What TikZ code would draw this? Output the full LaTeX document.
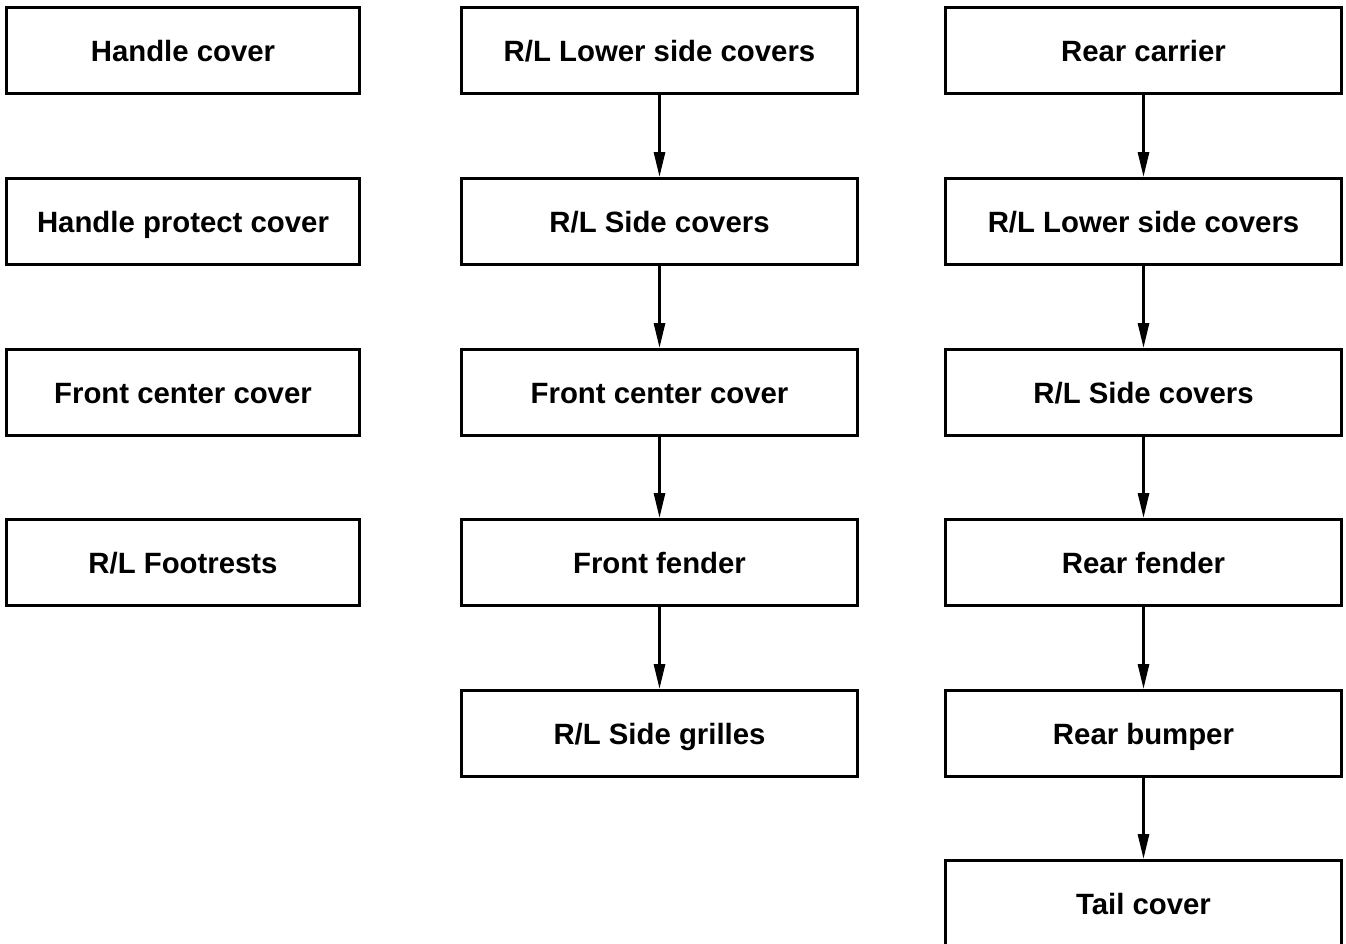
\documentclass[tikz,border=0pt]{standalone}
\usepackage{fontspec}
\setmainfont{Liberation Sans}
\usetikzlibrary{arrows.meta}
\tikzset{
  partbox/.style={draw=black, line width=1.7pt, fill=white, minimum height=1.72cm,
    align=center, inner sep=2pt, text height=11.96pt, text depth=0pt,
    font=\fontsize{16.7pt}{19pt}\selectfont\bfseries},
  narrowbox/.style={partbox, minimum width=7.06cm},
  widebox/.style={partbox, minimum width=7.92cm},
  order/.style={-{Triangle[length=5mm, width=2.2mm]}, line width=1.6pt},
}

\begin{document}
\begin{tikzpicture}

  \useasboundingbox (0,0) rectangle (26.92,-18.88);

  % left column
  \node[narrowbox] (hc)  at (3.66,-1.01)  {Handle cover};
  \node[narrowbox] (hpc) at (3.66,-4.43)  {Handle protect cover};
  \node[narrowbox] (fcc) at (3.66,-7.85)  {Front center cover};
  \node[narrowbox] (ft)  at (3.66,-11.25) {R/L Footrests};

  % middle column
  \node[widebox] (mlsc) at (13.19,-1.01)  {R/L Lower side covers};
  \node[widebox] (msc)  at (13.19,-4.43)  {R/L Side covers};
  \node[widebox] (mfcc) at (13.19,-7.85)  {Front center cover};
  \node[widebox] (ff)   at (13.19,-11.25) {Front fender};
  \node[widebox] (sg)   at (13.19,-14.67) {R/L Side grilles};

  \draw[order] (mlsc) -- (msc);
  \draw[order] (msc) -- (mfcc);
  \draw[order] (mfcc) -- (ff);
  \draw[order] (ff) -- (sg);

  % right column
  \node[widebox] (rc)   at (22.87,-1.01)  {Rear carrier};
  \node[widebox] (rlsc) at (22.87,-4.43)  {R/L Lower side covers};
  \node[widebox] (rsc)  at (22.87,-7.85)  {R/L Side covers};
  \node[widebox] (rf)   at (22.87,-11.25) {Rear fender};
  \node[widebox] (rb)   at (22.87,-14.67) {Rear bumper};
  \node[widebox] (tc)   at (22.87,-18.07) {Tail cover};

  \draw[order] (rc) -- (rlsc);
  \draw[order] (rlsc) -- (rsc);
  \draw[order] (rsc) -- (rf);
  \draw[order] (rf) -- (rb);
  \draw[order] (rb) -- (tc);

\end{tikzpicture}
\end{document}
